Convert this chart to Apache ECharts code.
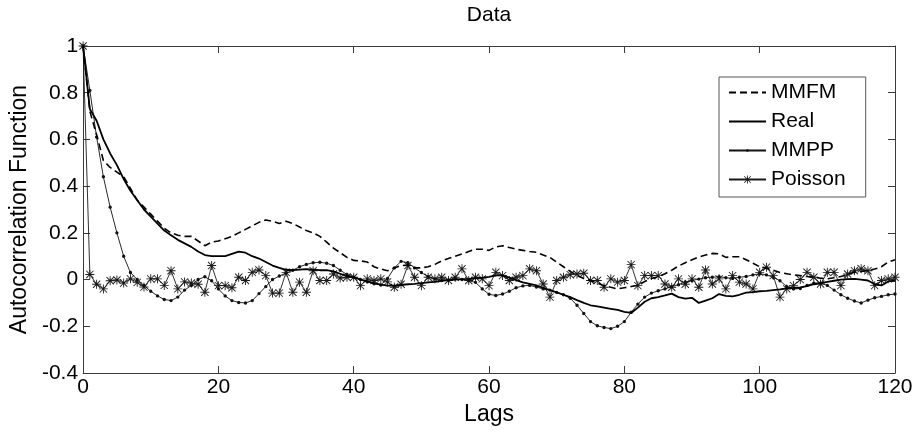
<!DOCTYPE html>
<html>
<head>
<meta charset="utf-8">
<title>Data</title>
<script src="https://cdn.jsdelivr.net/npm/echarts@6/dist/echarts.min.js"></script>
<style>
  html, body { margin: 0; padding: 0; background: #fff; }
  #chart { width: 917px; height: 433px; }
</style>
</head>
<body>
<div id="chart"></div>
<script>
// Autocorrelation at lags 0..120
const lags = Array.from({ length: 121 }, (_, i) => i);

const xTicks = [0, 20, 40, 60, 80, 100, 120];
const yTicks = [-0.4, -0.2, 0, 0.2, 0.4, 0.6, 0.8, 1];

const mmfm = [
  1.00, 0.72, 0.62, 0.51, 0.48, 0.46, 0.44, 0.39, 0.34, 0.31,
  0.28, 0.25, 0.22, 0.20, 0.19, 0.185, 0.185, 0.165, 0.145, 0.16,
  0.165, 0.175, 0.185, 0.20, 0.215, 0.23, 0.245, 0.255, 0.25, 0.24,
  0.25, 0.24, 0.225, 0.21, 0.20, 0.185, 0.16, 0.135, 0.115, 0.095,
  0.082, 0.08, 0.075, 0.055, 0.045, 0.038, 0.05, 0.06, 0.062, 0.05,
  0.05, 0.055, 0.065, 0.08, 0.09, 0.10, 0.11, 0.12, 0.13, 0.13,
  0.125, 0.14, 0.145, 0.137, 0.13, 0.125, 0.12, 0.117, 0.105, 0.095,
  0.075, 0.055, 0.035, 0.018, 0.005, -0.004, -0.015, -0.026, -0.033, -0.04,
  -0.035, -0.03, -0.025, -0.008, 0.005, 0.012, 0.025, 0.04, 0.058, 0.072,
  0.085, 0.097, 0.105, 0.112, 0.11, 0.095, 0.098, 0.098, 0.085, 0.07,
  0.055, 0.048, 0.04, 0.03, 0.025, 0.02, 0.017, 0.013, 0.01, 0.006,
  0.003, 0.008, 0.013, 0.022, 0.031, 0.035, 0.038, 0.045, 0.055, 0.075,
  0.085
];

const real = [
  1.00, 0.73, 0.68, 0.60, 0.54, 0.49, 0.43, 0.38, 0.34, 0.30,
  0.27, 0.24, 0.21, 0.19, 0.17, 0.155, 0.14, 0.12, 0.105, 0.10,
  0.10, 0.10, 0.11, 0.12, 0.115, 0.10, 0.09, 0.075, 0.06, 0.05,
  0.042, 0.04, 0.043, 0.045, 0.043, 0.04, 0.04, 0.035, 0.025, 0.015,
  0.01, 0.0, -0.008, -0.015, -0.022, -0.026, -0.026, -0.024, -0.02, -0.018,
  -0.015, -0.012, -0.01, -0.006, -0.002, 0.0, 0.002, 0.003, 0.005, 0.008,
  0.012, 0.018, 0.018, 0.008, -0.002, -0.012, -0.018, -0.025, -0.035, -0.045,
  -0.055, -0.065, -0.075, -0.088, -0.10, -0.11, -0.115, -0.12, -0.125, -0.13,
  -0.138, -0.143, -0.12, -0.095, -0.08, -0.075, -0.068, -0.06, -0.075, -0.082,
  -0.078, -0.10, -0.09, -0.08, -0.062, -0.07, -0.072, -0.065, -0.056, -0.054,
  -0.05, -0.048, -0.045, -0.042, -0.038, -0.036, -0.033, -0.028, -0.02, -0.015,
  -0.01, -0.005, 0.0, 0.002, 0.003, 0.0, -0.004, -0.02, -0.025, -0.008,
  -0.005
];

const mmpp = [
  1.00, 0.81, 0.61, 0.44, 0.31, 0.20, 0.10, 0.03, 0.0, -0.025,
  -0.05, -0.07, -0.085, -0.09, -0.075, -0.045, -0.025, 0.0, 0.012, -0.005,
  -0.04, -0.07, -0.09, -0.098, -0.10, -0.09, -0.06, -0.03, 0.0, 0.015,
  0.028, 0.04, 0.055, 0.065, 0.072, 0.074, 0.07, 0.06, 0.04, 0.022,
  0.01, 0.0, -0.01, -0.018, -0.023, 0.005, 0.05, 0.078, 0.072, 0.05,
  0.03, 0.012, 0.003, -0.004, -0.002, 0.003, 0.0, -0.005, -0.012, -0.04,
  -0.063, -0.068, -0.062, -0.05, -0.035, -0.027, -0.025, -0.032, -0.04, -0.045,
  -0.055, -0.065, -0.08, -0.11, -0.145, -0.18, -0.198, -0.205, -0.21, -0.20,
  -0.18, -0.14, -0.105, -0.075, -0.058, -0.048, -0.04, -0.03, -0.022, -0.01,
  -0.004, 0.002, 0.008, 0.01, 0.012, 0.008, 0.005, 0.01, 0.013, 0.02,
  0.025, 0.02, 0.01, -0.005, -0.03, -0.04, -0.038, -0.025, -0.015, -0.015,
  -0.025, -0.045, -0.065, -0.08, -0.092, -0.10, -0.088, -0.078, -0.072, -0.065,
  -0.062
];

const poisson = [
  1.00, 0.022, -0.02, -0.04, -0.005, -0.002, -0.015, 0.003, -0.012, -0.032,
  0.003, 0.003, -0.025, 0.038, -0.04, -0.01, -0.015, -0.02, -0.054, 0.06,
  -0.026, -0.026, -0.035, 0.01, -0.004, 0.031, 0.041, 0.017, -0.058, -0.058,
  0.031, -0.054, -0.011, -0.054, 0.038, -0.004, -0.004, 0.024, 0.007, 0.01,
  0.01, -0.026, 0.003, -0.004, 0.003, -0.01, -0.033, -0.02, 0.06, 0.01,
  -0.026, 0.01, 0.003, 0.01, -0.004, 0.01, 0.046, -0.004, 0.01, 0.003,
  -0.026, 0.031, 0.017, -0.004, 0.01, 0.017, 0.046, 0.038, -0.019, -0.075,
  -0.004, 0.01, 0.021, 0.024, 0.027, -0.004, -0.004, -0.033, 0.003, -0.011,
  -0.004, 0.064, -0.026, 0.017, 0.017, 0.017, -0.019, -0.033, 0.003, -0.02,
  0.003, -0.033, 0.041, -0.019, 0.003, -0.04, 0.017, -0.011, -0.019, -0.04,
  0.031, 0.053, 0.017, -0.075, -0.04, -0.026, 0.0, 0.031, 0.01, -0.019,
  0.031, 0.031, -0.026, 0.024, 0.038, 0.046, 0.038, -0.026, -0.004, 0.003,
  0.01
];

// Marker shapes: a small dot (padded box so it stays small in the legend)
// and an asterisk built from four thin bars.
const dotSymbol = 'path://M0 0h0.01v0.01h-0.01Z M10 9.99h0.01v0.01h-0.01Z M6.7 5A1.7 1.7 0 1 1 3.3 5A1.7 1.7 0 1 1 6.7 5Z';
const starSymbol = 'path://M9 0L11 0L11 20L9 20Z M0 9L20 9L20 11L0 11Z ' +
  'M2.6 1.2L18.8 17.4L17.4 18.8L1.2 2.6Z M17.4 1.2L18.8 2.6L2.6 18.8L1.2 17.4Z';

const pairs = (ys) => lags.map((x, i) => [x, ys[i]]);

const font = 'Liberation Sans, Arial, Helvetica, sans-serif';
const axisColor = '#3a3a3a';

const chart = echarts.init(document.getElementById('chart'), null, { renderer: 'canvas' });

const frameAxis = {
  type: 'value',
  axisLine: { show: true, onZero: false, lineStyle: { color: axisColor, width: 1 } },
  axisTick: { show: true, inside: true, length: 7, lineStyle: { color: axisColor, width: 1 } },
  splitLine: { show: false }
};

// Line-only legend entries carry no marker
const noMarker = { color: 'rgba(0,0,0,0)', borderWidth: 0, opacity: 0 };

chart.setOption({
  backgroundColor: '#ffffff',
  animation: false,
  textStyle: { fontFamily: font, color: '#000' },
  grid: { left: 82, right: 22, top: 45, bottom: 60, containLabel: false },
  legend: {
    left: 719,
    top: 77,
    orient: 'vertical',
    padding: [5, 20, 7, 9],
    itemWidth: 37,
    itemHeight: 10,
    itemGap: 8,
    backgroundColor: '#ffffff',
    borderColor: '#555',
    borderWidth: 1,
    borderRadius: 0,
    textStyle: { fontFamily: font, fontSize: 21, color: '#000', padding: [0, 0, 0, 0] },
    data: [
      { name: 'MMFM', itemStyle: noMarker },
      { name: 'Real', itemStyle: noMarker },
      { name: 'MMPP' },
      { name: 'Poisson' }
    ]
  },
  xAxis: [
    Object.assign({}, frameAxis, {
      min: xTicks[0], max: xTicks[xTicks.length - 1], interval: 20,
      position: 'bottom',
      axisLabel: { fontSize: 21, margin: 4, color: '#000', fontFamily: font },
      name: 'Lags', nameLocation: 'middle', nameGap: 27,
      nameTextStyle: { fontSize: 23, color: '#000', fontFamily: font }
    }),
    Object.assign({}, frameAxis, {
      min: xTicks[0], max: xTicks[xTicks.length - 1], interval: 20,
      position: 'top',
      axisLabel: { show: false },
      name: 'Data', nameLocation: 'middle', nameGap: 20,
      nameTextStyle: { fontSize: 21, color: '#000', fontFamily: font }
    })
  ],
  yAxis: [
    Object.assign({}, frameAxis, {
      min: yTicks[0], max: yTicks[yTicks.length - 1], interval: 0.2,
      position: 'left',
      axisLabel: { fontSize: 21, margin: 5, color: '#000', fontFamily: font },
      name: 'Autocorrelation Function', nameLocation: 'middle', nameGap: 49,
      nameTextStyle: { fontSize: 23, color: '#000', fontFamily: font }
    }),
    Object.assign({}, frameAxis, {
      min: yTicks[0], max: yTicks[yTicks.length - 1], interval: 0.2,
      position: 'right',
      axisLabel: { show: false }
    })
  ],
  series: [
    {
      name: 'Poisson', type: 'line', data: pairs(poisson),
      symbol: starSymbol, symbolSize: 9, showSymbol: true,
      lineStyle: { color: '#1a1a1a', width: 0.9 },
      itemStyle: { color: '#1a1a1a' },
      z: 2
    },
    {
      name: 'MMPP', type: 'line', data: pairs(mmpp),
      symbol: dotSymbol, symbolSize: 10, showSymbol: true,
      lineStyle: { color: '#111', width: 0.9 },
      itemStyle: { color: '#111' },
      z: 3
    },
    {
      name: 'Real', type: 'line', data: pairs(real),
      symbol: 'none',
      lineStyle: { color: '#000', width: 1.8 },
      itemStyle: { color: '#000' },
      z: 4
    },
    {
      name: 'MMFM', type: 'line', data: pairs(mmfm),
      symbol: 'none',
      lineStyle: { color: '#000', width: 1.6, type: [7, 4] },
      itemStyle: { color: '#000' },
      z: 5
    }
  ]
});
</script>
</body>
</html>
